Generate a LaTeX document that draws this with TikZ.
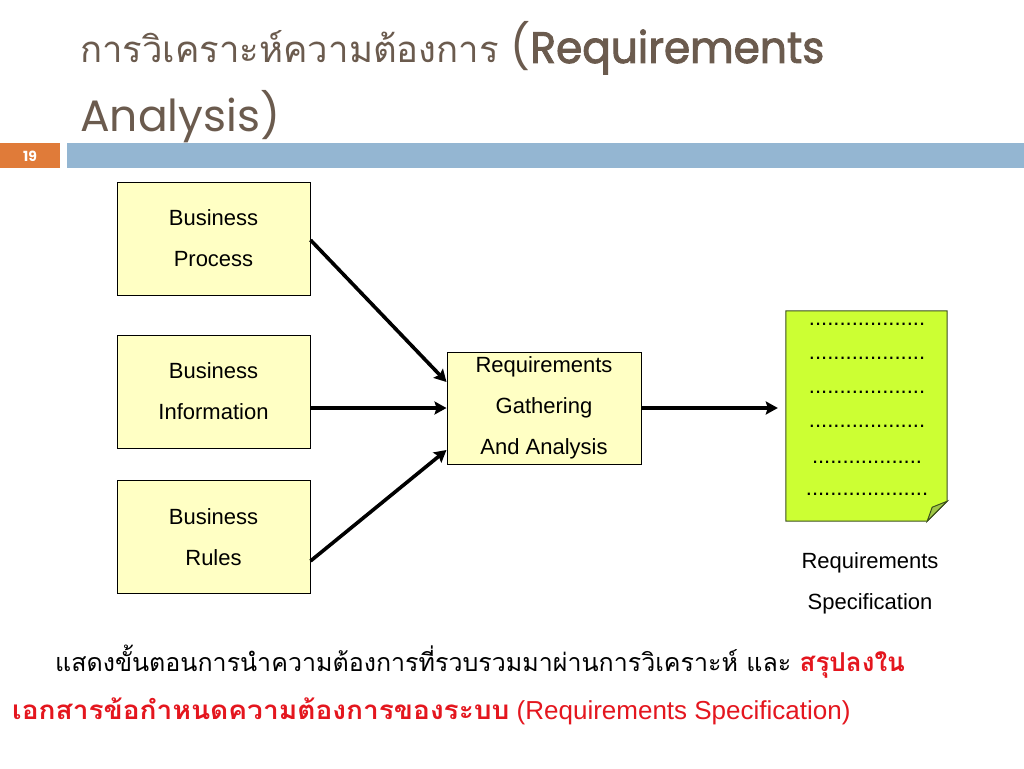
\documentclass[tikz,border=0pt]{standalone}
\usepackage{fontspec}
\usetikzlibrary{arrows.meta}
\setmainfont{Liberation Sans}
\newfontfamily\thaifont[Script=Thai]{Loma}
\newfontfamily\thaiwide[Script=Thai,FakeStretch=1.08]{Loma}
\newfontfamily\titlefont{Poppins}
\newfontfamily\titleheavy[FakeBold=2,FakeStretch=0.96]{Poppins}
\definecolor{titlebrown}{RGB}{107,91,78}
\definecolor{boxyellow}{RGB}{255,255,196}
\definecolor{docgreen}{RGB}{204,255,51}
\definecolor{foldgreen}{RGB}{160,200,70}
\definecolor{docedge}{RGB}{60,80,30}
\definecolor{barorange}{RGB}{224,123,57}
\definecolor{barblue}{RGB}{148,182,210}
\definecolor{notered}{RGB}{228,22,30}
\tikzset{
  bizbox/.style={draw=black, line width=1pt, fill=boxyellow, inner sep=0pt,
    minimum width=193pt, minimum height=113pt, align=center,
    font=\fontsize{22}{41}\selectfont},
  arr/.style={line width=3.6pt, -{Stealth[length=12pt,width=13pt,inset=2pt]}},
  dotline/.style={anchor=base, font=\fontsize{22}{26}\selectfont, inner sep=0pt},
  slidetext/.style={anchor=base west, inner sep=0pt}
}
\begin{document}
\begin{tikzpicture}[x=1pt,y=-1pt]
\useasboundingbox (0,0) rectangle (1024,768);
\fill[white] (0,0) rectangle (1024,768);

% title
\node[slidetext, text=titlebrown] (t1) at (80,63)
  {{\thaifont\fontsize{36.5}{44}\selectfont การวิเคราะห์ความต้องการ}{\titlefont\fontsize{44}{48}\selectfont\ (}{\titleheavy\fontsize{44}{48}\selectfont Requirements}};
\node[slidetext, text=titlebrown] (t2) at (80,131)
  {\titlefont\fontsize{44}{48}\selectfont Analysis)};

% bars
\fill[barorange] (0,143) rectangle (60,168);
\node[text=white, font=\titlefont\bfseries\fontsize{14}{16}\selectfont] (pg) at (30,156) {19};
\fill[barblue] (67,143) rectangle (1024,168);

% boxes
\node[bizbox] (b1) at (213.5,238.5) {Business\\ Process};
\node[bizbox] (b2) at (213.5,391.5) {Business\\Information};
\node[bizbox] (b3) at (213.5,537) {Business\\ Rules};
\node[bizbox, minimum width=194pt, minimum height=112pt] (rg) at (544,408)
  {Requirements\\Gathering\\And Analysis};

% document
\node[inner sep=0pt, minimum width=161pt, minimum height=210pt] (doc) at (866.5,416) {};
\draw[docedge, line width=1pt, fill=docgreen]
  (doc.north west) -- (doc.north east) -- ([yshift=20pt]doc.south east)
  -- ([xshift=-20pt]doc.south east) -- (doc.south west) -- cycle;
\draw[docedge, line width=1pt, fill=foldgreen]
  ([yshift=20pt]doc.south east) -- ([xshift=-20pt]doc.south east)
  -- ([xshift=-15pt,yshift=14pt]doc.south east) -- cycle;
\node[dotline] (d1) at (867,325) {...................};
\node[dotline] (d2) at (867,359) {...................};
\node[dotline] (d3) at (867,393) {...................};
\node[dotline] (d4) at (867,427) {...................};
\node[dotline] (d5) at (867,463) {..................};
\node[dotline] (d6) at (867,495) {....................};
\node[align=center, font=\fontsize{22}{41}\selectfont] (spec) at (870,583)
  {Requirements\\Specification};

% arrows
\draw[arr] ([yshift=-1.5pt]b1.east) -- ([yshift=26pt]rg.west);
\draw[arr] (b2.east |- rg.west) -- (rg.west);
\draw[arr] ([yshift=-24pt]b3.east) -- ([yshift=-42pt]rg.west);
\draw[arr] (rg.east) -- ([xshift=-8pt]rg.east -| doc.west);

% note
\node[slidetext] (n1) at (55,671)
  {{\thaifont\fontsize{25}{30}\selectfont แสดงขั้นตอนการนำความต้องการที่รวบรวมมาผ่านการวิเคราะห์ และ }{\color{notered}\thaifont\bfseries\fontsize{26}{30}\selectfont สรุปลงใน}};
\node[slidetext, text=notered] (n2) at (12,719)
  {{\thaiwide\bfseries\fontsize{26}{30}\selectfont เอกสารข้อกำหนดความต้องการของระบบ}{\fontsize{26}{30}\selectfont\ (Requirements Specification)}};
\end{tikzpicture}
\end{document}
